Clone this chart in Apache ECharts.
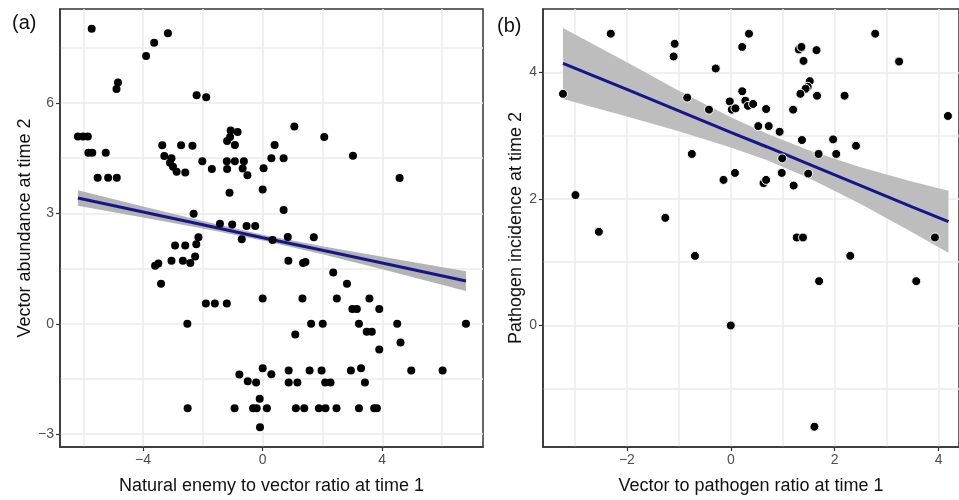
<!DOCTYPE html>
<html>
<head>
<meta charset="utf-8">
<script src="https://cdn.jsdelivr.net/npm/echarts@6/dist/echarts.min.js"></script>
<style>
  html, body { margin: 0; padding: 0; background: #fff; }
  #main { width: 959px; height: 500px; }
</style>
</head>
<body>
<div id="main"></div>
<script>
// panel (a): natural enemy : vector ratio (t1) vs vector abundance (t2)
var enemyRatio = [
  -5.72, -3.90, -3.63, -3.17, -4.84, -4.89, -2.21, -1.89,
  -6.18, -6.01, -5.85, -5.83, -5.70, -5.25, -5.52, -5.17, -4.88,
  -3.36, -3.29, -3.05, -3.10, -3.00, -2.88, -2.59, -2.73, -2.35, -2.02, -1.70,
  -2.31, -1.11, -1.19, -1.07, -0.84, -1.09, -0.93, -1.20, -0.93, -1.19,
  -0.63, -0.67, -0.51, 0.03, 0.00, 0.40, 0.29, 0.70, 1.06, 2.06, 3.02, 4.58, 0.70,
  -2.15, -1.43, -1.02, -0.54, -0.25, -0.70, 0.33, 0.84, 1.71,
  -2.93, -2.59, -2.22, -3.60, -3.49, -3.05, -2.67, -2.42, -2.26, -3.40,
  -1.90, -1.60, -1.20, -2.52, 0.00, 0.86, 1.35, 1.43, 2.36, 2.82,
  1.33, 2.48, 3.57, 3.00, 3.15, 3.90, 1.62, 2.01, 3.22, 4.50, 6.80,
  1.09, 3.48, 3.65, 4.61, 3.90,
  -0.78, -0.50, -0.22, 0.00, 0.29, 0.87, 0.87, 1.16, 1.57, 1.97, 2.09, 2.27,
  2.95, 3.29, 3.42, 4.97, 6.02, -0.10,
  -2.51, -0.94, -0.32, -0.20, 0.14, 1.11, 1.39, 1.88, 2.10, 2.47, 3.22, 3.73, 3.82,
  -0.09
];
var vectorAbund = [
  8.02, 7.28, 7.64, 7.90, 6.56, 6.38, 6.21, 6.16,
  5.09, 5.09, 5.09, 4.65, 4.65, 4.65, 3.97, 3.97, 3.97,
  4.85, 4.56, 4.50, 4.38, 4.27, 4.13, 4.11, 4.85, 4.84, 4.42, 4.21,
  2.99, 3.56, 4.97, 5.25, 5.21, 5.08, 4.86, 4.42, 4.42, 4.21,
  4.42, 4.22, 4.04, 4.23, 3.65, 4.86, 4.50, 4.50, 5.36, 5.08, 4.57, 3.96, 3.09,
  2.35, 2.72, 2.70, 2.66, 2.66, 2.30, 2.28, 2.36, 2.35,
  2.13, 2.13, 2.16, 1.58, 1.64, 1.71, 1.71, 1.65, 1.83, 1.09,
  0.55, 0.55, 0.55, 0.00, 0.69, 1.71, 1.65, 1.68, 1.39, 1.09,
  0.69, 0.69, 0.69, 0.40, 0.40, 0.40, 0.00, 0.00, 0.00, 0.00, 0.00,
  -0.29, -0.22, -0.22, -0.51, -0.70,
  -1.38, -1.56, -1.60, -1.21, -1.37, -1.27, -1.60, -1.60, -1.27, -1.27, -1.60, -1.60,
  -1.27, -1.21, -1.60, -1.27, -1.27, -2.04,
  -2.30, -2.30, -2.30, -2.30, -2.30, -2.30, -2.30, -2.30, -2.30, -2.30, -2.30, -2.30, -2.30,
  -2.81
];
// fitted line + band
var fitAX = [-6.18, -4, -2, 0, 2, 4, 6.8];
var fitAY = [3.42, 3.04, 2.69, 2.34, 2.00, 1.65, 1.16];
var fitALow = [3.21, 2.89, 2.59, 2.26, 1.89, 1.48, 0.89];
var fitAHigh = [3.63, 3.19, 2.79, 2.42, 2.11, 1.82, 1.43];

// panel (b): vector : pathogen ratio (t1) vs pathogen incidence (t2)
var vectorRatio = [
  -3.23, -2.31, -2.99, -2.54, -1.08, -1.10, -1.26, -0.84, -0.42, -0.75, -0.69,
  -0.29, -0.14, 0.08, 0.00, 0.22, 0.35, 0.22, -0.02, 0.02, 0.09, 0.28, 0.33, 0.43,
  0.68, 0.53, 0.73, 0.94, 0.63, 0.68, 0.99, 0.98, 1.20, 1.21, 1.37, 1.31, 1.36,
  1.40, 1.65, 1.52, 1.48, 1.44, 1.34, 1.66, 1.49, 1.69, 1.97, 2.03, 2.19, 2.41,
  2.78, 3.24, 4.18, 3.93, 1.27, 1.39, 2.30, 1.70, 3.57, 1.61
];
var pathogenInc = [
  3.66, 4.61, 2.06, 1.48, 4.45, 4.25, 1.70, 3.60, 3.41, 2.71, 1.10,
  4.06, 2.30, 2.41, 0.00, 4.40, 4.61, 3.70, 3.54, 3.41, 3.43, 3.55, 3.47, 3.50,
  3.42, 3.15, 3.15, 3.06, 2.25, 2.30, 2.64, 2.41, 3.41, 2.21, 2.93, 4.36, 4.40,
  4.18, 4.35, 3.86, 3.77, 3.74, 3.66, 3.63, 2.40, 2.71, 2.94, 2.71, 3.63, 2.84,
  4.61, 4.17, 3.31, 1.39, 1.39, 1.39, 1.10, 0.70, 0.70, -1.60
];
var fitBX = [-3.23, -2, -1, 0, 0.7, 1.5, 2.5, 3.5, 4.19];
var fitBY = [4.14, 3.73, 3.39, 3.05, 2.82, 2.55, 2.21, 1.87, 1.64];
var fitBLow = [3.58, 3.30, 3.07, 2.81, 2.61, 2.33, 1.92, 1.47, 1.15];
var fitBHigh = [4.70, 4.16, 3.71, 3.29, 3.03, 2.77, 2.50, 2.27, 2.13];

// tick labels and grid lines
var aXTicks = [-4, 0, 4];
var aXMinor = [-6, -2, 2, 6];
var aYTicks = [-3, 0, 3, 6];
var aYMinor = [-1.5, 1.5, 4.5, 7.5];
var bXTicks = [-2, 0, 2, 4];
var bXMinor = [-3, -1, 1, 3];
var bYTicks = [0, 2, 4];
var bYMinor = [-1, 1, 3];

var FONT = '"Liberation Sans", Arial, sans-serif';

function zip(xs, ys) {
    return xs.map(function (x, i) { return [x, ys[i]]; });
}
function minusFmt(v) {
    return String(v).replace('-', '\u2212');
}

// light ggplot-style grid, kept behind everything
function gridLines(xs, ys, idx) {
    var d = [];
    xs.forEach(function (v) { d.push({xAxis: v}); });
    ys.forEach(function (v) { d.push({yAxis: v}); });
    return {
        type: 'scatter', xAxisIndex: idx, yAxisIndex: idx, data: [], z: 0,
        silent: true, animation: false,
        markLine: {
            z: 0, silent: true, animation: false, symbol: ['none', 'none'],
            label: {show: false},
            emphasis: {disabled: true},
            lineStyle: {color: '#ebebeb', width: 1.5, type: 'solid'},
            data: d
        }
    };
}

function band(xs, lo, hi, idx, color) {
    var rows = xs.map(function (x, i) { return [x, lo[i], hi[i]]; });
    return {
        type: 'custom', xAxisIndex: idx, yAxisIndex: idx, z: 2, silent: true,
        clip: true, animation: false,
        encode: {x: 0, y: [1, 2]},
        data: rows,
        renderItem: function (params, api) {
            if (params.dataIndex !== 0) return null;
            var n = rows.length, top = [], bot = [];
            for (var i = 0; i < n; i++) {
                top.push(api.coord([api.value(0, i), api.value(2, i)]));
                bot.push(api.coord([api.value(0, i), api.value(1, i)]));
            }
            return {
                type: 'polygon',
                shape: {points: top.concat(bot.reverse())},
                style: {fill: color, stroke: null}
            };
        }
    };
}

function xAxisOf(idx, min, max, ticks, name) {
    return {
        type: 'value', gridIndex: idx, min: min, max: max,
        splitLine: {show: false},
        axisLine: {show: true, onZero: false, lineStyle: {color: '#333', width: 1.5}},
        axisTick: {show: true, customValues: ticks, length: 4, lineStyle: {color: '#333', width: 1.2}},
        axisLabel: {customValues: ticks, formatter: minusFmt, color: '#4d4d4d', fontSize: 14, fontFamily: FONT, margin: 6},
        name: name, nameLocation: 'middle', nameGap: 30,
        nameTextStyle: {color: '#111', fontSize: 18, fontFamily: FONT}
    };
}
function yAxisOf(idx, min, max, ticks, name, gap) {
    return {
        type: 'value', gridIndex: idx, min: min, max: max,
        splitLine: {show: false},
        axisLine: {show: true, onZero: false, lineStyle: {color: '#333', width: 1.5}},
        axisTick: {show: true, customValues: ticks, length: 4, lineStyle: {color: '#333', width: 1.2}},
        axisLabel: {customValues: ticks, formatter: minusFmt, color: '#4d4d4d', fontSize: 14, fontFamily: FONT, margin: 6},
        name: name, nameLocation: 'middle', nameGap: gap, nameRotate: 90,
        nameTextStyle: {color: '#111', fontSize: 18, fontFamily: FONT}
    };
}

var myChart = echarts.init(document.getElementById('main'), null, {renderer: 'canvas'});

var option = {
    animation: false,
    backgroundColor: '#fff',
    title: [
        {text: '(a)', left: 12, top: 13, padding: 0,
         textStyle: {fontSize: 20, fontWeight: 'normal', color: '#111', fontFamily: FONT}},
        {text: '(b)', left: 497, top: 16, padding: 0,
         textStyle: {fontSize: 20, fontWeight: 'normal', color: '#111', fontFamily: FONT}}
    ],
    grid: [
        {left: 60, top: 9, width: 423, height: 443, show: true, borderColor: '#333', borderWidth: 1.5, backgroundColor: 'transparent'},
        {left: 543, top: 9, width: 418, height: 443, show: true, borderColor: '#333', borderWidth: 1.5, backgroundColor: 'transparent'}
    ],
    xAxis: [
        xAxisOf(0, -6.78, 7.37, aXTicks, 'Natural enemy to vector ratio at time 1'),
        xAxisOf(1, -3.615, 4.393, bXTicks, 'Vector to pathogen ratio at time 1')
    ],
    yAxis: [
        yAxisOf(0, -3.35, 8.556, aYTicks, 'Vector abundance at time 2', 26),
        yAxisOf(1, -1.92, 5.0, bYTicks, 'Pathogen incidence at time 2', 17)
    ],
    series: [
        gridLines(aXTicks.concat(aXMinor), aYTicks.concat(aYMinor), 0),
        gridLines(bXTicks.concat(bXMinor), bYTicks.concat(bYMinor), 1),
        band(fitAX, fitALow, fitAHigh, 0, '#b3b3b3'),
        band(fitBX, fitBLow, fitBHigh, 1, '#bdbdbd'),
        {
            type: 'line', xAxisIndex: 0, yAxisIndex: 0, z: 3, silent: true,
            data: zip(fitAX, fitAY), symbol: 'none',
            lineStyle: {color: '#16168c', width: 3}
        },
        {
            type: 'line', xAxisIndex: 1, yAxisIndex: 1, z: 3, silent: true,
            data: zip(fitBX, fitBY), symbol: 'none',
            lineStyle: {color: '#16168c', width: 3}
        },
        {
            type: 'scatter', xAxisIndex: 0, yAxisIndex: 0, z: 4,
            data: zip(enemyRatio, vectorAbund),
            symbolSize: 8, itemStyle: {color: '#000', opacity: 1}
        },
        {
            type: 'scatter', xAxisIndex: 1, yAxisIndex: 1, z: 4,
            data: zip(vectorRatio, pathogenInc),
            symbolSize: 9, itemStyle: {color: '#000', borderColor: '#fff', borderWidth: 1, opacity: 1}
        }
    ]
};

myChart.setOption(option);
</script>
</body>
</html>
